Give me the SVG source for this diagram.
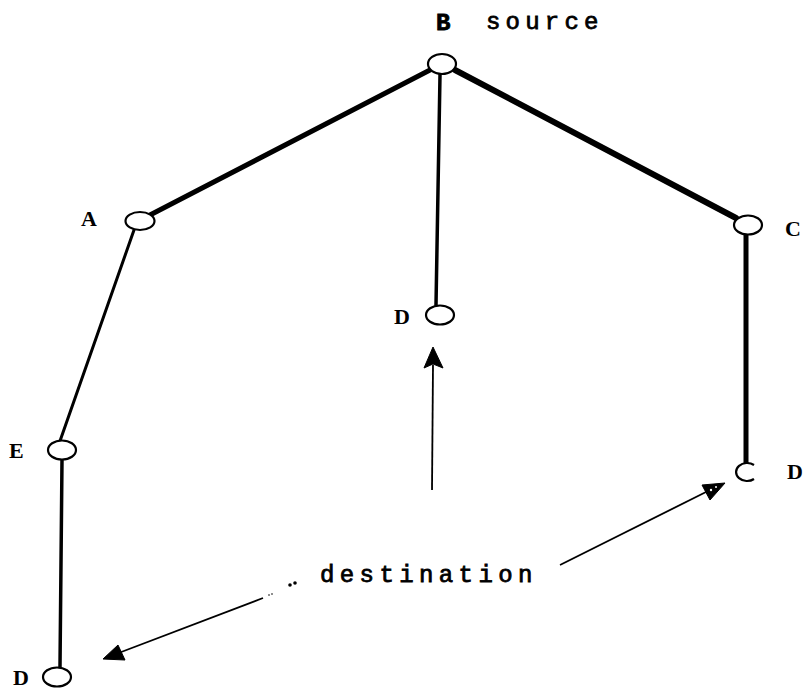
<svg xmlns="http://www.w3.org/2000/svg" width="810" height="692" viewBox="0 0 810 692">
<defs>
<style>
.node{fill:#fff;stroke:#000;stroke-width:2.2}
.lbl{font-family:"Liberation Serif",serif;font-weight:bold;font-size:22px;fill:#000}
.tw{font-family:"Liberation Mono","Courier New",monospace;font-size:24px;fill:#000;stroke:#000;stroke-width:0.8}
.edge{stroke:#000;fill:none;stroke-linecap:round}
.arr{stroke:#000;stroke-width:1.8;fill:none}
.head{fill:#000;stroke:#000;stroke-width:1}
</style>
</defs>
<rect width="810" height="692" fill="#fff"/>
<g id="connectors">
<line class="edge" x1="430" y1="70" x2="150" y2="215" stroke-width="5"/>
<line class="edge" x1="455" y1="70" x2="736" y2="218" stroke-width="6"/>
<line class="edge" x1="440" y1="75" x2="436" y2="305" stroke-width="3.5"/>
<line class="edge" x1="134" y1="230" x2="60" y2="441" stroke-width="3"/>
<line class="edge" x1="746" y1="235" x2="746" y2="463" stroke-width="5"/>
<line class="edge" x1="62" y1="460" x2="60" y2="667" stroke-width="3.5"/>
<line class="arr" x1="432" y1="490" x2="433" y2="365"/>
<polygon class="head" points="433,347 443,368 433,364 424,368"/>
<line class="arr" x1="560" y1="565" x2="712" y2="489" stroke-width="2.2"/>
<polygon class="head" points="725,483 702,485 710,500"/>
<circle cx="711" cy="490" r="1.2" fill="#fff"/>
<circle cx="716" cy="487" r="1" fill="#fff"/>
<line class="arr" x1="263" y1="598" x2="116" y2="654" stroke-width="2.2"/>
<polygon class="head" points="103,659 118,645 125,660"/>
<circle cx="269" cy="595" r="0.8" fill="#000"/>
<circle cx="272" cy="594" r="0.8" fill="#000"/>
<circle cx="290" cy="585" r="1.8" fill="#000"/>
<circle cx="295" cy="583" r="1.8" fill="#000"/>
</g>
<g id="node-B">
<ellipse class="node" cx="442" cy="64" rx="14" ry="10"/>
<text class="tw" x="436" y="30" font-size="26" font-weight="bold">B</text>
<text class="tw" x="486" y="29" letter-spacing="5.2">source</text>
</g>
<g id="node-A">
<ellipse class="node" cx="140" cy="221" rx="14.5" ry="9"/>
<text class="lbl" x="81" y="226">A</text>
</g>
<g id="node-C">
<ellipse class="node" cx="748" cy="225" rx="14" ry="9.5"/>
<text class="lbl" x="785" y="236">C</text>
</g>
<g id="node-D-center">
<ellipse class="node" cx="440" cy="315" rx="14" ry="9.5"/>
<text class="lbl" x="394" y="324">D</text>
</g>
<g id="node-E">
<ellipse class="node" cx="62" cy="450" rx="14" ry="9.5"/>
<text class="lbl" x="9" y="458">E</text>
</g>
<g id="node-D-right">
<path class="node" d="M 754 465 A 11 9 0 1 0 754 479"/>
<text class="lbl" x="787" y="479">D</text>
</g>
<g id="node-D-bottom">
<ellipse class="node" cx="57" cy="677" rx="14" ry="9.5"/>
<text class="lbl" x="13" y="685">D</text>
</g>
<g id="label-destination">
<text class="tw" x="320" y="582" letter-spacing="5.4">destination</text>
</g>
</svg>
